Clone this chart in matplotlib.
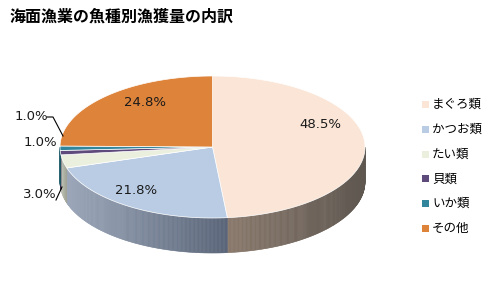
import numpy as np
import matplotlib
matplotlib.use('Agg')
import matplotlib.pyplot as plt
from matplotlib.patches import Polygon, Rectangle
from matplotlib.colors import to_rgb

plt.rcParams['font.family'] = ['Noto Sans CJK JP', 'DejaVu Sans']

title = '海面漁業の魚種別漁獲量の内訳'
categories = ['まぐろ類', 'かつお類', 'たい類', '貝類', 'いか類', 'その他']
shares = [48.5, 21.8, 3.0, 1.0, 1.0, 24.8]

top_colors = ['#FAE5D6', '#B9CCE4', '#EBF0DE', '#5F4A7C', '#31869C', '#DE833A']
side_left = ['#8A796C', '#9CA8BA', '#C8CCBE', '#4A3A60', '#246878', '#B06628']
side_right = ['#5E5750', '#5A6579', '#A0A496', '#3A2C4C', '#1C5260', '#8C5020']

# geometry in pixels
cx, cy, rx, ry, depth = 212.5, 147.0, 152.5, 71.0, 35.0

fig = plt.figure(figsize=(4.97, 2.98), dpi=100)
ax = fig.add_axes([0, 0, 1, 1])
ax.set_xlim(0, 497)
ax.set_ylim(298, 0)
ax.axis('off')

total = sum(shares)
# clockwise from 12 o'clock -> math angle theta = 90 - phi
bounds = np.concatenate([[0], np.cumsum(shares) / total * 360.0])


def pt(theta, dz=0.0):
    t = np.radians(theta)
    return cx + rx * np.cos(t), cy - ry * np.sin(t) + dz


# side walls (visible lower half: theta in [180, 360])
for i in range(len(shares)):
    t_hi = 90 - bounds[i]
    t_lo = 90 - bounds[i + 1]
    # normalise into [-270, 90] -> test against [180,360] using shift
    segs = []
    for shift in (0, 360):
        a, b = t_lo + shift, t_hi + shift
        lo, hi = max(a, 180), min(b, 360)
        if hi > lo:
            segs.append((lo, hi))
    c0 = np.array(to_rgb(side_left[i]))
    c1 = np.array(to_rgb(side_right[i]))
    for lo, hi in segs:
        ts = np.linspace(lo, hi, max(int((hi - lo) * 2), 2) + 1)
        xs_all = [pt(t)[0] for t in ts]
        xmin, xmax = min(xs_all), max(xs_all)
        for k in range(len(ts) - 1):
            a, b = ts[k], ts[k + 1]
            p1, p2 = pt(a), pt(b)
            q1, q2 = pt(b, depth), pt(a, depth)
            xm = (p1[0] + p2[0]) / 2
            f = 0 if xmax == xmin else (xm - xmin) / (xmax - xmin)
            col = c0 * (1 - f) + c1 * f
            ax.add_patch(Polygon([p1, p2, q1, q2], closed=True, facecolor=col,
                                 edgecolor=col, linewidth=0.4))

# top face
for i in range(len(shares)):
    ts = np.linspace(90 - bounds[i], 90 - bounds[i + 1], 200)
    verts = [(cx, cy)] + [pt(t) for t in ts]
    ax.add_patch(Polygon(verts, closed=True, facecolor=top_colors[i],
                         edgecolor='white', linewidth=0.5))

# labels
labels = ['%.1f%%' % s for s in shares]
inside_pos = {0: (320, 124), 1: (136, 190), 5: (145, 103)}
outside_pos = {2: (40, 195), 3: (40, 142), 4: (31, 116)}
for i, lab in enumerate(labels):
    if i in inside_pos:
        x, y = inside_pos[i]
    else:
        x, y = outside_pos[i]
    ax.text(x, y, lab, ha='center', va='center', fontsize=9.5, color='#1a1a1a',
            family=['DejaVu Sans'])

# leader lines
ax.plot([47, 53, 63], [117, 117, 136], color='black', linewidth=0.8)
ax.plot([56, 62], [200, 187], color='black', linewidth=0.8)

# title
ax.text(10, 17, title, ha='left', va='center', fontsize=11.5, fontweight='bold')

# legend
for i, cat in enumerate(categories):
    y = 104.5 + i * 24.8
    ax.add_patch(Rectangle((422, y - 3.5), 7, 7, facecolor=top_colors[i],
                           edgecolor='none'))
    ax.text(432, y, cat, ha='left', va='center', fontsize=9)

fig.savefig('out.png', dpi=100)
